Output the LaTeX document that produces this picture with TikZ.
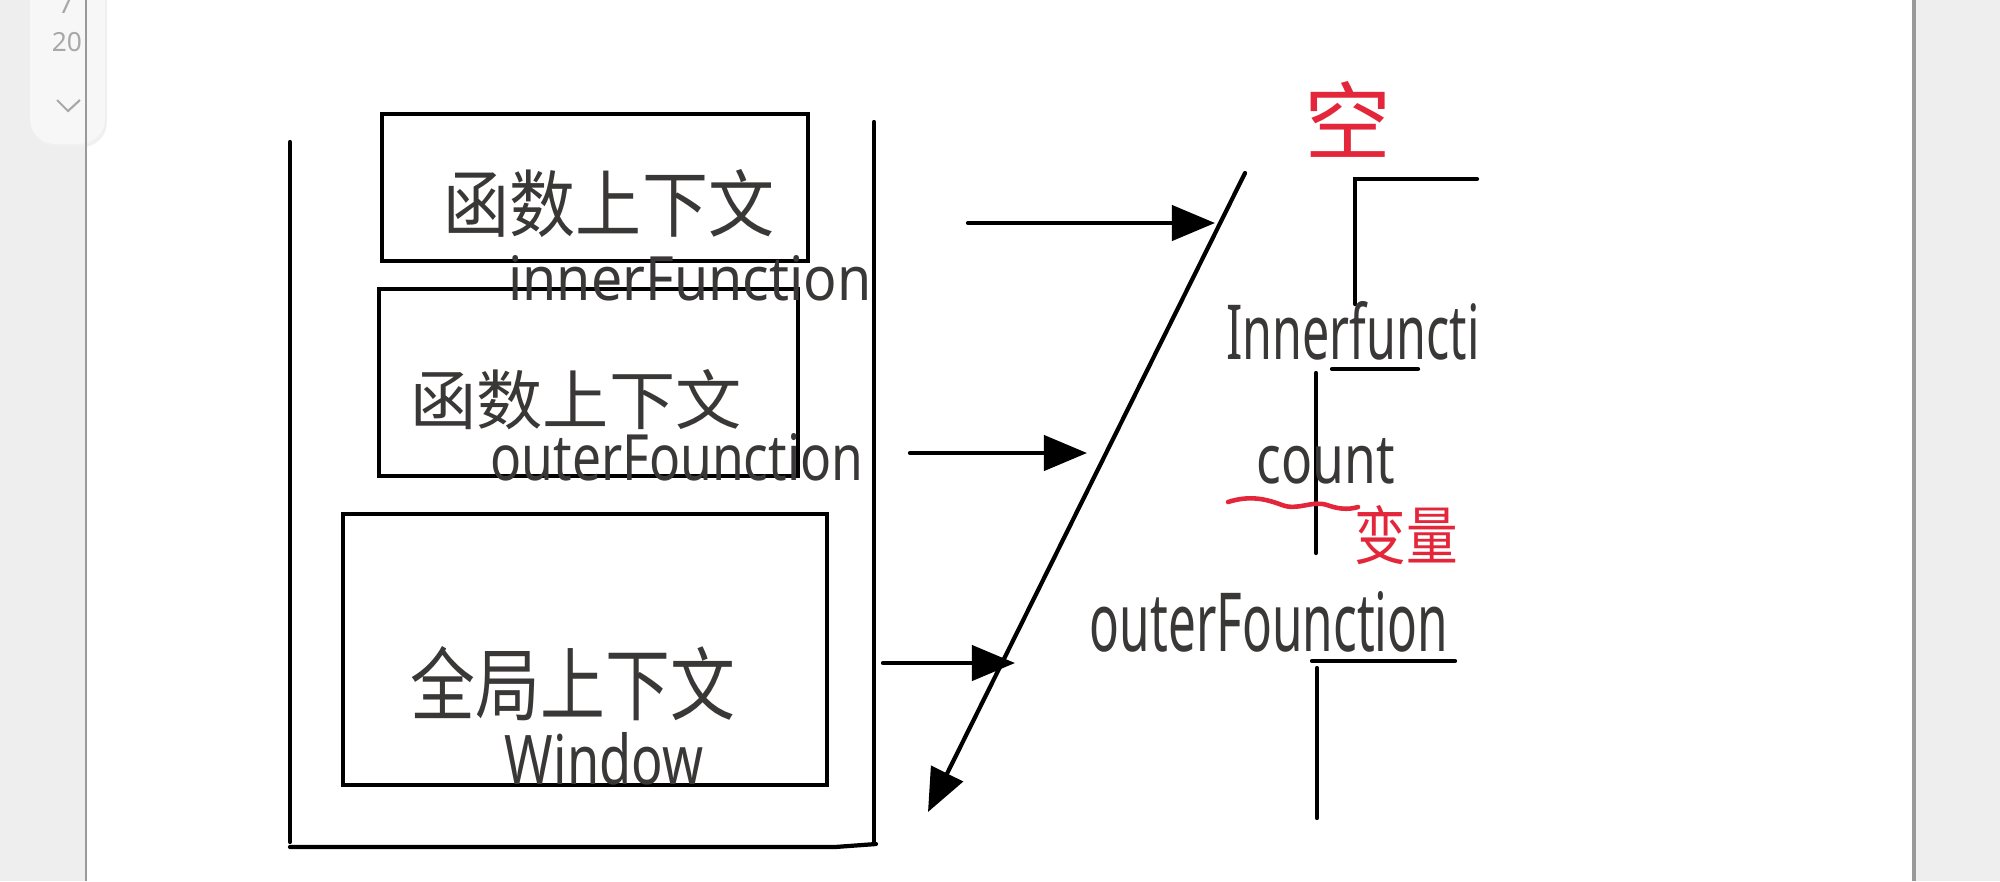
\documentclass[tikz,border=0pt]{standalone}
\usepackage{fontspec}
\setmainfont{Noto Sans}
\newfontfamily\cjk{Noto Sans CJK SC}
\usetikzlibrary{arrows.meta}
\definecolor{ink}{HTML}{3A3737}
\definecolor{redink}{HTML}{E3263A}
\definecolor{sidegray}{HTML}{EEEEEE}
\definecolor{bordergray}{HTML}{999999}
\definecolor{widget}{HTML}{F7F7F7}
\definecolor{widgettext}{HTML}{A8A8A8}
\newcommand{\fitwh}[3]{\resizebox{#1cm}{#2cm}{#3}}
\tikzset{
  stroke/.style={line width=1.2pt, line cap=round, draw=black},
  ctxbox/.style={draw=black, line width=1.2pt, inner sep=0pt},
  hand/.style={text=ink, inner sep=0pt, anchor=center},
  redhand/.style={text=redink, inner sep=0pt, anchor=center},
  bigarrow/.style={stroke, -{Triangle[length=4.3mm,width=3.5mm]}},
}
\begin{document}
\begin{tikzpicture}[x=0.01cm,y=-0.01cm]
\useasboundingbox (0,0) rectangle (2000,881);
\clip (0,0) rectangle (2000,881);
% viewer background
\fill[sidegray] (0,0) rectangle (86,881);
\fill[sidegray] (1915,0) rectangle (2000,881);
\fill[white] (86,0) rectangle (1915,881);
% side widget
\fill[black!6, rounded corners=0.25cm] (31,-30) rectangle (107,147);
\fill[widget, rounded corners=0.25cm] (30,-30) rectangle (105,144);
\node[text=widgettext, inner sep=0pt, font=\fontsize{7.5pt}{8pt}\selectfont] (pg7) at (66,4) {7};
\node[text=widgettext, inner sep=0pt, font=\fontsize{7.5pt}{8pt}\selectfont] (pg20) at (67,42) {20};
\draw[widgettext, line width=0.6pt] (57,100) -- (68,111) -- (80,100);
\draw[bordergray, line width=0.6pt] (86,0) -- (86,881);
\draw[bordergray, line width=0.9pt] (1914,0) -- (1914,881);

% stack container
\coordinate (cTL) at (290,142);
\coordinate (cBL) at (290,847);
\coordinate (cBM) at (835,847);
\coordinate (cBR) at (876,844);
\coordinate (cTR) at (874,122);
\draw[stroke] (cTL) -- (290,842);
\draw[stroke] (cBL) -- (cBM) -- (cBR);
\draw[stroke] (cTR) -- (874,844);

% context boxes
\node[ctxbox, minimum width=4.25cm, minimum height=1.47cm] (box1) at (595,187.5) {};
\node[ctxbox, minimum width=4.19cm, minimum height=1.87cm] (box2) at (588.5,382.5) {};
\node[ctxbox, minimum width=4.83cm, minimum height=2.71cm] (box3) at (585,649.5) {};

% texts in the stack
\node[hand] (t1) at (609,204) {\fitwh{3.3}{0.62}{\cjk 函数上下文}};
\node[hand] (t1b) at (690,278) {\fitwh{3.63}{0.45}{innerFunction}};
\node[hand] (t2) at (576,400) {\fitwh{3.31}{0.55}{\cjk 函数上下文}};
\node[hand] (t2b) at (677,457) {\fitwh{3.73}{0.47}{outerFounction}};
\node[hand] (t3) at (573,684) {\fitwh{3.24}{0.68}{\cjk 全局上下文}};
\node[hand] (t3b) at (604,759) {\fitwh{1.98}{0.52}{Window}};

% slanted line with arrow
\coordinate (sTop) at (1245,173);
\coordinate (sBot) at (928,812);
\draw[bigarrow] (sTop) -- (sBot);

% horizontal arrows
\coordinate (a1s) at (968,223);
\coordinate (a1e) at (1215,223);
\coordinate (a2s) at (910,453);
\coordinate (a2e) at (1087,453);
\coordinate (a3s) at (883,663);
\coordinate (a3e) at (1015,663);
\draw[bigarrow] (a1s) -- (a1e);
\draw[bigarrow] (a2s) -- (a2e);
\draw[bigarrow] (a3s) -- (a3e);

% right-hand scope chain
\node[redhand] (empty) at (1348,119) {\fitwh{0.87}{0.72}{\cjk 空}};
\coordinate (r1a) at (1355,179);
\coordinate (r1b) at (1477,179);
\coordinate (r1c) at (1355,304);
\draw[stroke] (r1b) -- (r1a) -- (r1c);
\node[hand] (inner) at (1353,331) {\fitwh{2.53}{0.58}{Innerfuncti}};
\coordinate (u1a) at (1332,369);
\coordinate (u1b) at (1418,369);
\draw[stroke] (u1a) -- (u1b);
\coordinate (v1a) at (1316,373);
\coordinate (v1b) at (1316,553);
\draw[stroke] (v1a) -- (v1b);
\node[hand] (count) at (1326,461) {\fitwh{1.38}{0.45}{count}};
\draw[redink, line width=1.3pt, line cap=round]
  (1228,502) .. controls (1250,495) and (1266,499) .. (1282,505)
  .. controls (1298,511) and (1312,500) .. (1327,505)
  .. controls (1338,509) and (1348,510) .. (1358,507);
\node[redhand] (var) at (1406,535) {\fitwh{1.03}{0.54}{\cjk 变量}};
\node[hand] (outer) at (1269,622) {\fitwh{3.58}{0.60}{outerFounction}};
\coordinate (u2a) at (1312,661);
\coordinate (u2b) at (1455,661);
\draw[stroke] (u2a) -- (u2b);
\coordinate (v2a) at (1317,668);
\coordinate (v2b) at (1317,818);
\draw[stroke] (v2a) -- (v2b);
\end{tikzpicture}
\end{document}
